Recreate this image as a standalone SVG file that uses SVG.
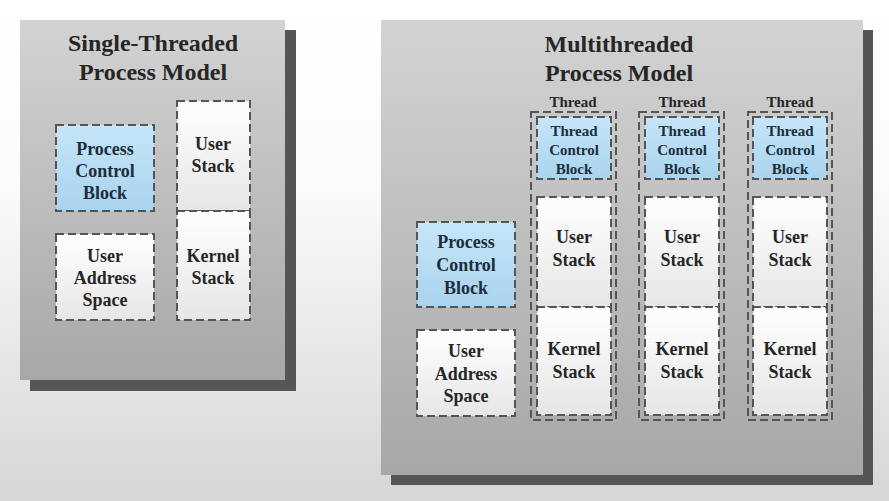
<svg xmlns="http://www.w3.org/2000/svg" width="889" height="501" viewBox="0 0 889 501">
  <defs>
    <linearGradient id="bg" x1="0" y1="0" x2="0" y2="1">
      <stop offset="0" stop-color="#ffffff"/>
      <stop offset="0.36" stop-color="#fbfbfb"/>
      <stop offset="1" stop-color="#d6d6d6"/>
    </linearGradient>
    <linearGradient id="panel" x1="0" y1="0" x2="0" y2="1">
      <stop offset="0" stop-color="#d3d3d3"/>
      <stop offset="1" stop-color="#a7a7a7"/>
    </linearGradient>
    <linearGradient id="white" x1="0" y1="0" x2="0" y2="1">
      <stop offset="0" stop-color="#ffffff"/>
      <stop offset="1" stop-color="#e6e6e6"/>
    </linearGradient>
    <linearGradient id="blue" x1="0" y1="0" x2="0" y2="1">
      <stop offset="0" stop-color="#c6e6f9"/>
      <stop offset="1" stop-color="#a9d3ee"/>
    </linearGradient>
  </defs>
  <style>
    .shadow { fill: #555555; }
    .panel { fill: url(#panel); }
    .box { stroke: #555555; stroke-width: 2; stroke-dasharray: 8 4; }
    .wbox { fill: url(#white); }
    .bbox { fill: url(#blue); }
    .frame { fill: none; }
    text { font-family: "Liberation Serif", "DejaVu Serif", serif; font-weight: bold; text-anchor: middle; fill: #262626; }
    .title { font-size: 24px; }
    .lbl { font-size: 18px; }
    .small { font-size: 15px; }
    .blt { fill: #1c2e3c; }
  </style>

  <rect width="889" height="501" fill="url(#bg)"/>

  <!-- Single-threaded model -->
  <g id="single-model">
    <rect class="shadow" x="30" y="30" width="266" height="361"/>
    <rect class="panel" x="20" y="20" width="265" height="360"/>
    <text class="title" x="153" y="51">Single-Threaded</text>
    <text class="title" x="153" y="80">Process Model</text>
  </g>
  <g id="single-pcb">
    <rect class="box bbox" x="56" y="125" width="98" height="86"/>
    <text class="lbl blt" x="105" y="155">Process</text>
    <text class="lbl blt" x="105" y="177">Control</text>
    <text class="lbl blt" x="105" y="199">Block</text>
  </g>
  <g id="single-user-stack">
    <rect class="box wbox" x="177" y="101" width="73" height="110"/>
    <text class="lbl" x="213" y="150">User</text>
    <text class="lbl" x="213" y="172">Stack</text>
  </g>
  <g id="single-kernel-stack">
    <rect class="box wbox" x="177" y="211" width="73" height="109"/>
    <text class="lbl" x="213" y="262">Kernel</text>
    <text class="lbl" x="213" y="284">Stack</text>
  </g>
  <g id="single-address-space">
    <rect class="box wbox" x="56" y="234" width="98" height="86"/>
    <text class="lbl" x="105" y="262">User</text>
    <text class="lbl" x="105" y="284">Address</text>
    <text class="lbl" x="105" y="306">Space</text>
  </g>

  <!-- Multithreaded model -->
  <g id="multi-model">
    <rect class="shadow" x="391" y="30" width="482" height="455"/>
    <rect class="panel" x="381" y="20" width="482" height="455"/>
    <text class="title" x="619" y="52">Multithreaded</text>
    <text class="title" x="619" y="81">Process Model</text>
  </g>
  <g id="multi-pcb">
    <rect class="box bbox" x="417" y="222" width="98" height="85"/>
    <text class="lbl blt" x="466" y="248">Process</text>
    <text class="lbl blt" x="466" y="271">Control</text>
    <text class="lbl blt" x="466" y="294">Block</text>
  </g>
  <g id="multi-address-space">
    <rect class="box wbox" x="417" y="330" width="98" height="86"/>
    <text class="lbl" x="466" y="357">User</text>
    <text class="lbl" x="466" y="380">Address</text>
    <text class="lbl" x="466" y="402">Space</text>
  </g>

  <g id="thread-1">
    <text class="small" x="573" y="107">Thread</text>
    <rect class="box frame" x="531" y="112" width="85" height="308"/>
    <rect class="box bbox" x="537" y="117" width="74" height="62"/>
    <text class="small blt" x="574" y="136">Thread</text>
    <text class="small blt" x="574" y="155">Control</text>
    <text class="small blt" x="574" y="174">Block</text>
    <rect class="box wbox" x="537" y="197" width="74" height="110"/>
    <text class="lbl" x="574" y="243">User</text>
    <text class="lbl" x="574" y="266">Stack</text>
    <rect class="box wbox" x="537" y="307" width="74" height="108"/>
    <text class="lbl" x="574" y="355">Kernel</text>
    <text class="lbl" x="574" y="378">Stack</text>
  </g>
  <g id="thread-2">
    <text class="small" x="682" y="107">Thread</text>
    <rect class="box frame" x="639" y="112" width="85" height="308"/>
    <rect class="box bbox" x="645" y="117" width="74" height="62"/>
    <text class="small blt" x="682" y="136">Thread</text>
    <text class="small blt" x="682" y="155">Control</text>
    <text class="small blt" x="682" y="174">Block</text>
    <rect class="box wbox" x="645" y="197" width="74" height="110"/>
    <text class="lbl" x="682" y="243">User</text>
    <text class="lbl" x="682" y="266">Stack</text>
    <rect class="box wbox" x="645" y="307" width="74" height="108"/>
    <text class="lbl" x="682" y="355">Kernel</text>
    <text class="lbl" x="682" y="378">Stack</text>
  </g>
  <g id="thread-3">
    <text class="small" x="790" y="107">Thread</text>
    <rect class="box frame" x="748" y="112" width="84" height="308"/>
    <rect class="box bbox" x="753" y="117" width="74" height="62"/>
    <text class="small blt" x="790" y="136">Thread</text>
    <text class="small blt" x="790" y="155">Control</text>
    <text class="small blt" x="790" y="174">Block</text>
    <rect class="box wbox" x="753" y="197" width="74" height="110"/>
    <text class="lbl" x="790" y="243">User</text>
    <text class="lbl" x="790" y="266">Stack</text>
    <rect class="box wbox" x="753" y="307" width="74" height="108"/>
    <text class="lbl" x="790" y="355">Kernel</text>
    <text class="lbl" x="790" y="378">Stack</text>
  </g>

  <!-- no connectors in this figure -->
  <g id="connectors"/>
</svg>
